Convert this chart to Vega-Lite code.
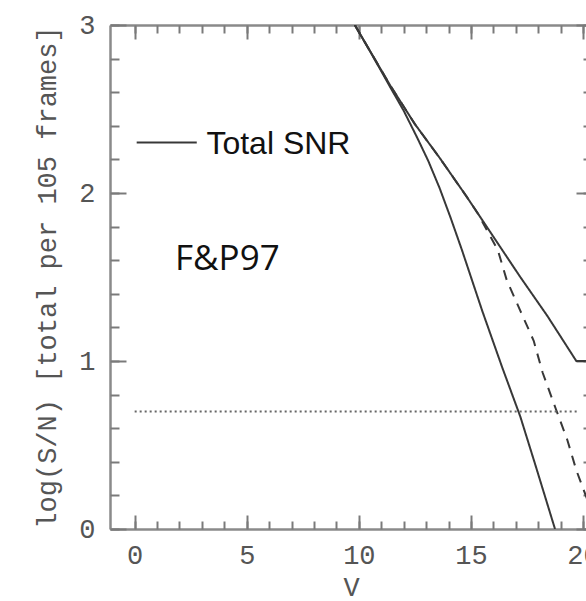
{
  "$schema": "https://vega.github.io/schema/vega-lite/v6.json",
  "width": 482,
  "height": 504,
  "autosize": "none",
  "padding": {"left": 110, "top": 25, "right": 0, "bottom": 72},
  "background": "white",
  "config": {
    "view": {"stroke": null},
    "axis": {
      "grid": false,
      "domainColor": "#8a8a8a",
      "domainWidth": 2.5,
      "tickColor": "#7a7a7a",
      "tickWidth": 2,
      "labelFont": "Liberation Mono",
      "labelFontSize": 27,
      "labelColor": "#555",
      "labelOverlap": false,
      "labelBound": false,
      "labelFlush": false,
      "titleFont": "Liberation Mono",
      "titleFontSize": 27,
      "titleFontWeight": "normal",
      "titleColor": "#555"
    }
  },
  "datasets": {
    "curves": [
      {"series": "steep", "V": 9.82, "snr": 3.0},
      {"series": "steep", "V": 10.6, "snr": 2.82},
      {"series": "steep", "V": 11.4, "snr": 2.63},
      {"series": "steep", "V": 12.0, "snr": 2.49},
      {"series": "steep", "V": 12.6, "snr": 2.33},
      {"series": "steep", "V": 13.1, "snr": 2.19},
      {"series": "steep", "V": 13.6, "snr": 2.03},
      {"series": "steep", "V": 14.1, "snr": 1.85},
      {"series": "steep", "V": 14.6, "snr": 1.66},
      {"series": "steep", "V": 15.5, "snr": 1.3},
      {"series": "steep", "V": 16.4, "snr": 0.96},
      {"series": "steep", "V": 17.2, "snr": 0.67},
      {"series": "steep", "V": 17.9, "snr": 0.37},
      {"series": "steep", "V": 18.75, "snr": 0.0},
      {"series": "upper", "V": 9.82, "snr": 3.0},
      {"series": "upper", "V": 11.4, "snr": 2.64},
      {"series": "upper", "V": 12.5, "snr": 2.41},
      {"series": "upper", "V": 13.6, "snr": 2.21},
      {"series": "upper", "V": 14.8, "snr": 1.98},
      {"series": "upper", "V": 15.3, "snr": 1.88},
      {"series": "upper", "V": 16.2, "snr": 1.7},
      {"series": "upper", "V": 17.2, "snr": 1.5},
      {"series": "upper", "V": 18.4, "snr": 1.27},
      {"series": "upper", "V": 19.7, "snr": 1.0},
      {"series": "upper", "V": 20.4, "snr": 1.0},
      {"series": "dashed", "V": 9.82, "snr": 3.0},
      {"series": "dashed", "V": 11.4, "snr": 2.64},
      {"series": "dashed", "V": 12.5, "snr": 2.41},
      {"series": "dashed", "V": 13.6, "snr": 2.21},
      {"series": "dashed", "V": 14.8, "snr": 1.98},
      {"series": "dashed", "V": 15.3, "snr": 1.88},
      {"series": "dashed", "V": 16.2, "snr": 1.66},
      {"series": "dashed", "V": 16.6, "snr": 1.48},
      {"series": "dashed", "V": 17.2, "snr": 1.3},
      {"series": "dashed", "V": 17.8, "snr": 1.12},
      {"series": "dashed", "V": 18.2, "snr": 0.93},
      {"series": "dashed", "V": 18.8, "snr": 0.71},
      {"series": "dashed", "V": 19.3, "snr": 0.53},
      {"series": "dashed", "V": 19.7, "snr": 0.35},
      {"series": "dashed", "V": 20.4, "snr": 0.1},
      {"series": "key", "V": 0.09, "snr": 2.3},
      {"series": "key", "V": 2.77, "snr": 2.3}
    ],
    "limit": [
      {"V": 0.0, "snr": 0.7},
      {"V": 19.8, "snr": 0.7}
    ],
    "labels1": [{"V": 3.2, "snr": 2.29, "text": "Total SNR"}],
    "labels2": [{"V": 1.8, "snr": 1.61, "text": "F&P97"}]
  },
  "layer": [
    {
      "data": {"name": "curves"},
      "mark": {"type": "line", "color": "#383838", "strokeWidth": 2, "clip": true},
      "encoding": {
        "x": {
          "field": "V", "type": "quantitative",
          "scale": {"domain": [-1.1, 20.4], "nice": false, "zero": false},
          "axis": {
            "orient": "bottom",
            "values": [0, 5, 10, 15, 20],
            "format": "d",
            "tickSize": -14,
            "labelPadding": 27,
            "title": "V",
            "titlePadding": 6
          }
        },
        "y": {
          "field": "snr", "type": "quantitative",
          "scale": {"domain": [0, 3], "nice": false, "zero": false},
          "axis": {
            "orient": "left",
            "values": [0, 1, 2, 3],
            "format": "d",
            "tickSize": -16,
            "labelPadding": 31,
            "title": "log(S/N) [total per 105 frames]",
            "titlePadding": 17
          }
        },
        "detail": {"field": "series", "type": "nominal"},
        "strokeDash": {
          "field": "series", "type": "nominal",
          "scale": {"domain": ["steep", "upper", "dashed", "key"], "range": [[1, 0], [1, 0], [10, 8], [1, 0]]},
          "legend": null
        }
      }
    },
    {
      "data": {"name": "limit"},
      "mark": {"type": "line", "color": "#666", "strokeWidth": 2, "strokeDash": [2, 3], "clip": true},
      "encoding": {
        "x": {
          "field": "V", "type": "quantitative",
          "axis": {
            "orient": "top",
            "values": [0, 5, 10, 15, 20],
            "labels": false,
            "title": null,
            "tickSize": -14
          }
        },
        "y": {
          "field": "snr", "type": "quantitative",
          "axis": {
            "orient": "right",
            "values": [0, 1, 2, 3],
            "labels": false,
            "title": null,
            "tickSize": -16
          }
        }
      }
    },
    {
      "data": {"name": "labels1"},
      "mark": {"type": "text", "font": "Liberation Sans", "fontSize": 32, "align": "left", "baseline": "middle", "color": "#111"},
      "encoding": {
        "x": {
          "field": "V", "type": "quantitative",
          "axis": {
            "orient": "top",
            "values": [0,1,2,3,4,5,6,7,8,9,10,11,12,13,14,15,16,17,18,19,20],
            "labels": false,
            "domain": false,
            "title": null,
            "tickSize": -8
          }
        },
        "y": {
          "field": "snr", "type": "quantitative",
          "axis": {
            "orient": "right",
            "values": [0,0.2,0.4,0.6,0.8,1,1.2,1.4,1.6,1.8,2,2.2,2.4,2.6,2.8,3],
            "labels": false,
            "domain": false,
            "title": null,
            "tickSize": -9
          }
        },
        "text": {"field": "text"}
      }
    },
    {
      "data": {"name": "labels2"},
      "mark": {"type": "text", "font": "Open Sans", "fontSize": 35, "align": "left", "baseline": "middle", "color": "#111"},
      "encoding": {
        "x": {
          "field": "V", "type": "quantitative",
          "axis": {
            "orient": "bottom",
            "values": [0,1,2,3,4,5,6,7,8,9,10,11,12,13,14,15,16,17,18,19,20],
            "labels": false,
            "domain": false,
            "title": null,
            "tickSize": -8
          }
        },
        "y": {
          "field": "snr", "type": "quantitative",
          "axis": {
            "orient": "left",
            "values": [0,0.2,0.4,0.6,0.8,1,1.2,1.4,1.6,1.8,2,2.2,2.4,2.6,2.8,3],
            "labels": false,
            "domain": false,
            "title": null,
            "tickSize": -9
          }
        },
        "text": {"field": "text"}
      }
    }
  ],
  "resolve": {"axis": {"x": "independent", "y": "independent"}}
}
